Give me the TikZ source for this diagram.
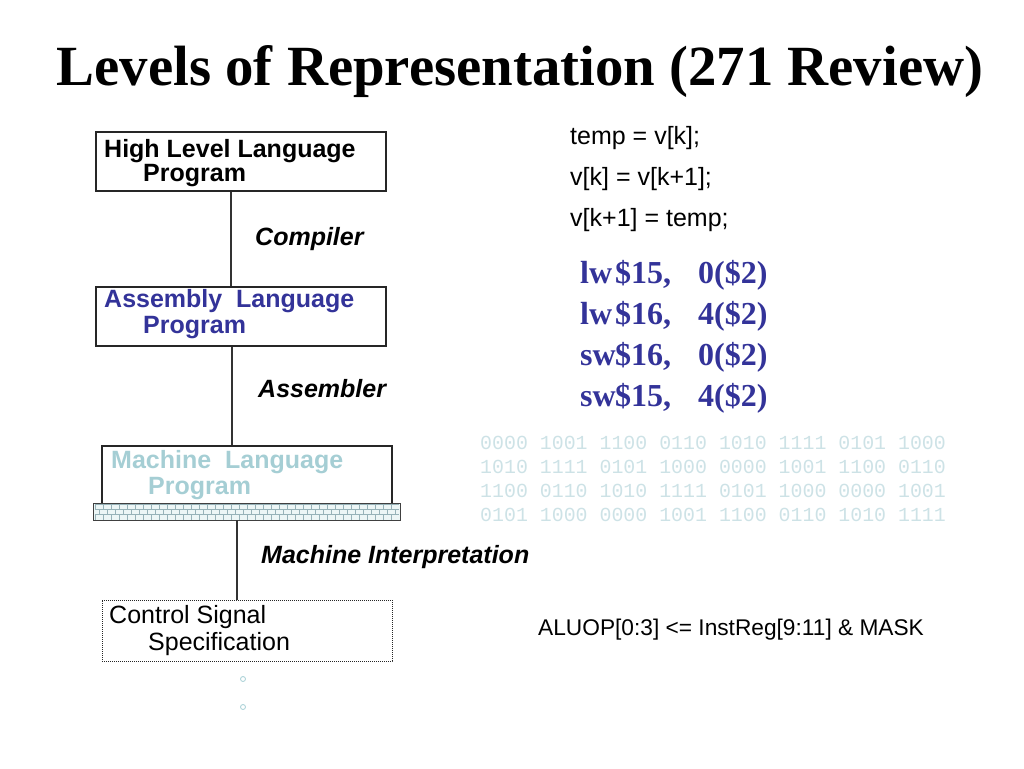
\documentclass[tikz,border=0pt]{standalone}
\usepackage{fontspec}
\setmainfont{Liberation Serif}
\setsansfont{Liberation Sans}
\setmonofont{Liberation Mono}
\usetikzlibrary{positioning}
\usetikzlibrary{calc}
\definecolor{asmblue}{RGB}{51,51,153}
\definecolor{machblue}{RGB}{165,206,212}
\definecolor{bitblue}{RGB}{205,226,230}
\definecolor{brickline}{RGB}{150,178,184}
\definecolor{brickfill}{RGB}{236,246,246}

\begin{document}
\begin{tikzpicture}[x=1pt,y=-1pt,
		level/.style={draw=black!85,line width=1.2pt,minimum width=290pt,minimum height=59pt,inner sep=0pt},
		txt/.style={anchor=base west,inner sep=0pt,font=\sffamily\fontsize{25}{30}\selectfont},
		boldtxt/.style={txt,font=\sffamily\bfseries\fontsize{25}{30}\selectfont},
		tool/.style={txt,font=\sffamily\bfseries\itshape\fontsize{25}{30}\selectfont},
		code/.style={txt,font=\sffamily\fontsize{25}{30}\selectfont},
		asm/.style={anchor=base west,inner sep=0pt,text=asmblue,font=\rmfamily\bfseries\fontsize{32}{36}\selectfont},
		bits/.style={anchor=base west,inner sep=0pt,text=bitblue,font=\ttfamily\fontsize{19.9}{24}\selectfont},
		conn/.style={draw=black!80,line width=1.2pt}]
		\useasboundingbox (0,0) rectangle (1024,768);
		% title
		\node[anchor=base,inner sep=0pt,font=\rmfamily\bfseries\fontsize{56.8}{60}\selectfont] (title) at (520,85) {Levels of Representation (271 Review)};
		% levels
		\node[level] (hll) at (241,161.5) {};
		\node[boldtxt] (hllA) at (104,157) {High Level Language};
		\node[boldtxt] (hllB) at (143,181) {Program};
		\node[level] (asl) at (241,316.5) {};
		\node[boldtxt,text=asmblue] (aslA) at (104,307) {Assembly\ \ Language};
		\node[boldtxt,text=asmblue] (aslB) at (143,333) {Program};
		\node[level,minimum height=58pt] (mll) at (247,475) {};
		\node[boldtxt,text=machblue] (mllA) at (111,468) {Machine\ \ Language};
		\node[boldtxt,text=machblue] (mllB) at (148,494) {Program};
		\node[fill=brickfill,minimum width=306pt,minimum height=16pt,inner sep=0pt] (bar) at (247,512) {};
		\foreach \r in {0,1,2} {
			\draw[brickline,line width=0.5pt] (95,504+\r*5.33) -- (399,504+\r*5.33);
			\foreach \c in {0,...,37}
				\draw[brickline,line width=0.5pt] ({95+\c*8+mod(\r,2)*4},504+\r*5.33) -- ++(0,5.33);
		}
		\draw[draw=black!75,line width=1.2pt] (bar.north west) rectangle (bar.south east);
		\node[level,line width=0.9pt,dash pattern=on 1.2pt off 0.8pt,minimum height=61pt] (css) at (247,630.5) {};
		\node[txt] (cssA) at (109,623) {Control Signal};
		\node[txt] (cssB) at (148,650) {Specification};
		\node[circle,draw=machblue,line width=0.8pt,minimum size=5pt,inner sep=0pt] (dotA) at (243,679) {};
		\node[circle,draw=machblue,line width=0.8pt,minimum size=5pt,inner sep=0pt] (dotB) at (243,707) {};
		% connectors
		\coordinate (lnA) at (231,0);
		\coordinate (lnB) at (232,0);
		\coordinate (lnC) at (237,0);
		\path[conn] (hll.south -| lnA) -- (asl.north -| lnA);
		\path[conn] (asl.south -| lnB) -- (mll.north -| lnB);
		\path[conn] (bar.south -| lnC) -- (css.north -| lnC);
		\node[tool] (cmp) at (255,245) {Compiler};
		\node[tool] (asr) at (258,397) {Assembler};
		\node[tool] (mint) at (261,563) {Machine Interpretation};
		% source code
		\node[code] (srcA) at (570,144) {temp = v[k];};
		\node[code] (srcB) at (570,185) {v[k] = v[k+1];};
		\node[code] (srcC) at (570,226) {v[k+1] = temp;};
		% assembly
		\foreach \op/\rg/\off [count=\i] in {lw/{\$15,}/0(\$2),lw/{\$16,}/4(\$2),sw/{\$16,}/0(\$2),sw/{\$15,}/4(\$2)} {
			\node[asm] (op\i) at (580,242+41*\i) {\op};
			\node[asm] (rg\i) at (615,242+41*\i) {\rg};
			\node[asm] (off\i) at (698,242+41*\i) {\off};
		}
		% machine code
		\node[bits] (bitA) at (480,449) {0000 1001 1100 0110 1010 1111 0101 1000};
		\node[bits] (bitB) at (480,473) {1010 1111 0101 1000 0000 1001 1100 0110};
		\node[bits] (bitC) at (480,497) {1100 0110 1010 1111 0101 1000 0000 1001};
		\node[bits] (bitD) at (480,521) {0101 1000 0000 1001 1100 0110 1010 1111};
		% control
		\node[txt,font=\sffamily\fontsize{22.7}{27}\selectfont] (alu) at (538,635) {ALUOP[0:3] <= InstReg[9:11] \& MASK};
\end{tikzpicture}
\end{document}
